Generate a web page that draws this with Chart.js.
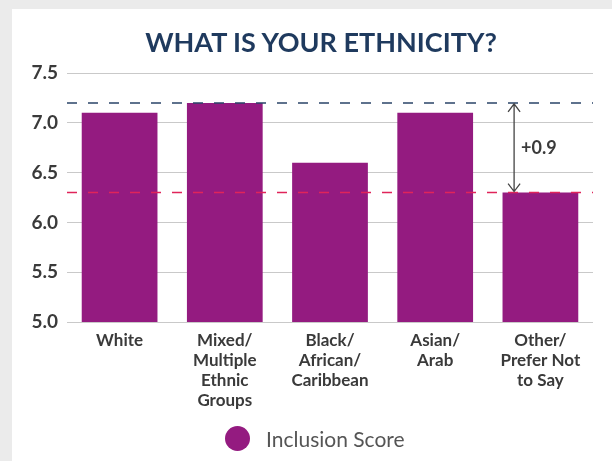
<!DOCTYPE html>
<html>
<head>
<meta charset="utf-8">
<script src="https://cdn.jsdelivr.net/npm/chart.js@4.4.1/dist/chart.umd.min.js"></script>
<style>
  html, body { margin: 0; padding: 0; background: #ebebeb; }
  #panel { position: absolute; left: 12px; top: 9px; width: 600px; height: 452px; background: #fff; }
  #title {
    position: absolute; left: 0; top: 16px; width: 618px; margin: 0;
    text-align: center; font: bold 27px Lato, sans-serif; color: #1f3a5e;
  }
  #legend {
    position: absolute; left: 213px; top: 416px; height: 26px;
    display: flex; align-items: center; font: 21px Lato, sans-serif; color: #555;
  }
  #legend .dot { width: 25px; height: 25px; border-radius: 50%; margin-right: 16px; }
  canvas { display: block; position: absolute; left: 0; top: 0; }
</style>
</head>
<body>
<div id="panel">
  <canvas id="chart" width="600" height="452"></canvas>
  <h1 id="title">WHAT IS YOUR ETHNICITY?</h1>
  <div id="legend"></div>
</div>
<script>
const categories = [
  "White",
  ["Mixed/", "Multiple", "Ethnic", "Groups"],
  ["Black/", "African/", "Caribbean"],
  ["Asian/", "Arab"],
  ["Other/", "Prefer Not", "to Say"]
];
const scores = [7.1, 7.2, 6.6, 7.1, 6.3];
const yTicks = [5.0, 5.5, 6.0, 6.5, 7.0, 7.5];

const highLine = 7.2;
const lowLine = 6.3;
const gapAt = 3.75; // category position of the gap arrow

const purple = "#941b80";

const refLines = {
  id: "refLines",
  afterDatasetsDraw(chart) {
    const { ctx, chartArea, scales } = chart;
    const yHi = scales.y.getPixelForValue(highLine);
    const yLo = scales.y.getPixelForValue(lowLine);
    ctx.save();
    ctx.lineWidth = 1.5;
    ctx.setLineDash([10, 11]);
    ctx.strokeStyle = "#2a4468";
    ctx.beginPath();
    ctx.moveTo(chartArea.left, yHi);
    ctx.lineTo(chartArea.right, yHi);
    ctx.stroke();
    ctx.strokeStyle = "#e0245a";
    ctx.beginPath();
    ctx.moveTo(chartArea.left, yLo);
    ctx.lineTo(chartArea.right, yLo);
    ctx.stroke();

    // gap arrow
    const x = scales.x.getPixelForValue(gapAt);
    ctx.setLineDash([]);
    ctx.strokeStyle = "#444";
    ctx.lineWidth = 1.3;
    ctx.beginPath();
    ctx.moveTo(x, yHi + 1);
    ctx.lineTo(x, yLo - 1);
    ctx.moveTo(x - 6, yHi + 9);
    ctx.lineTo(x, yHi + 1);
    ctx.lineTo(x + 6, yHi + 9);
    ctx.moveTo(x - 6, yLo - 9);
    ctx.lineTo(x, yLo - 1);
    ctx.lineTo(x + 6, yLo - 9);
    ctx.stroke();

    ctx.fillStyle = "#3a3a3a";
    ctx.font = "bold 18px Lato";
    ctx.textBaseline = "middle";
    ctx.fillText("+" + (highLine - lowLine).toFixed(1), x + 7, (yHi + yLo) / 2);
    ctx.restore();
  }
};

const chart = new Chart(document.getElementById("chart"), {
  type: "bar",
  data: {
    labels: categories,
    datasets: [{
      label: "Inclusion Score",
      data: scores,
      backgroundColor: purple,
      borderWidth: 0,
      categoryPercentage: 0.72,
      barPercentage: 1
    }]
  },
  options: {
    responsive: false,
    animation: false,
    layout: { padding: { left: 0, right: 19, top: 64, bottom: 48 } },
    plugins: {
      title: { display: false },
      legend: { display: false },
      tooltip: { enabled: false }
    },
    scales: {
      x: {
        grid: { display: false },
        border: { display: false },
        ticks: {
          color: "#3a3a3a",
          font: { family: "Lato", size: 17, weight: "bold", lineHeight: 1.18 },
          padding: 0,
          maxRotation: 0
        },
        afterFit(scale) { scale.height = 91; }
      },
      y: {
        min: 5.0,
        max: 7.5,
        afterBuildTicks(scale) { scale.ticks = yTicks.map(v => ({ value: v })); },
        grid: { color: "#c9c9c9", lineWidth: 1, drawTicks: false },
        border: { display: false },
        ticks: {
          color: "#3a3a3a",
          font: { family: "Lato", size: 19, weight: "bold" },
          padding: 9,
          callback: v => v.toFixed(1)
        },
        afterFit(scale) { scale.width = 55; }
      }
    }
  },
  plugins: [refLines]
});

// legend from the dataset
const legend = document.getElementById("legend");
chart.data.datasets.forEach(ds => {
  const dot = document.createElement("span");
  dot.className = "dot";
  dot.style.background = ds.backgroundColor;
  const label = document.createElement("span");
  label.textContent = ds.label;
  legend.appendChild(dot);
  legend.appendChild(label);
});
</script>
</body>
</html>
